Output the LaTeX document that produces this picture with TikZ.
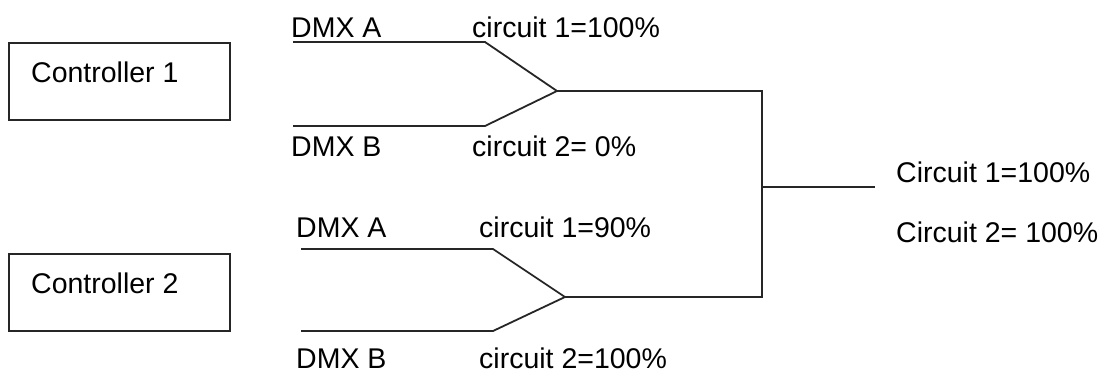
\documentclass[tikz,border=0pt]{standalone}
\usepackage{fontspec}
\setmainfont{Liberation Sans}
\begin{document}
\begin{tikzpicture}[x=1pt,y=-1pt,
  wire/.style={draw=black!85,line width=1.8pt,line join=miter},
  ctrlbox/.style={draw=black!85,line width=1.8pt,rectangle,inner sep=0pt,minimum width=221pt,minimum height=77pt},
  lbl/.style={anchor=base west,inner sep=0pt,font=\fontsize{28.5}{33}\selectfont}]
\useasboundingbox (0,0) rectangle (1108,372);
% controllers
\node[ctrlbox] (c1) at (119.5,81.5) {};
\node[ctrlbox] (c2) at (119.5,292.5) {};
\node[lbl] (c1t) at (31,82) {Controller 1};
\node[lbl] (c2t) at (31,293) {Controller 2};
% labels
\node[lbl] (a1) at (291,37) {DMX A};
\node[lbl] (p1) at (472,37) {circuit 1=100\%};
\node[lbl] (b1) at (291,156) {DMX B};
\node[lbl] (q1) at (472,156) {circuit 2= 0\%};
\node[lbl] (a2) at (296,237) {DMX A};
\node[lbl] (p2) at (479,237) {circuit 1=90\%};
\node[lbl] (b2) at (296,368) {DMX B};
\node[lbl] (q2) at (479,368) {circuit 2=100\%};
\node[lbl] (r1) at (896,182) {Circuit 1=100\%};
\node[lbl] (r2) at (896,242) {Circuit 2= 100\%};
% coordinates
\coordinate (a1s) at (293,42);  \coordinate (a1e) at (485,42);
\coordinate (b1s) at (293,126); \coordinate (b1e) at (485,126);
\coordinate (m1) at (557,91);
\coordinate (a2s) at (301,249); \coordinate (a2e) at (493,249);
\coordinate (b2s) at (301,331); \coordinate (b2e) at (493,331);
\coordinate (m2) at (565,297);
\coordinate (vt) at (762,91); \coordinate (vb) at (762,297);
\coordinate (vm) at (762,187); \coordinate (out) at (875,187);
% wires
\draw[wire] (a1s) -- (a1e) -- (m1) -- (b1e) -- (b1s);
\draw[wire] (a2s) -- (a2e) -- (m2) -- (b2e) -- (b2s);
\draw[wire] (m1) -- (vt) -- (vb) -- (m2);
\draw[wire] (vm) -- (out);
\end{tikzpicture}
\end{document}
